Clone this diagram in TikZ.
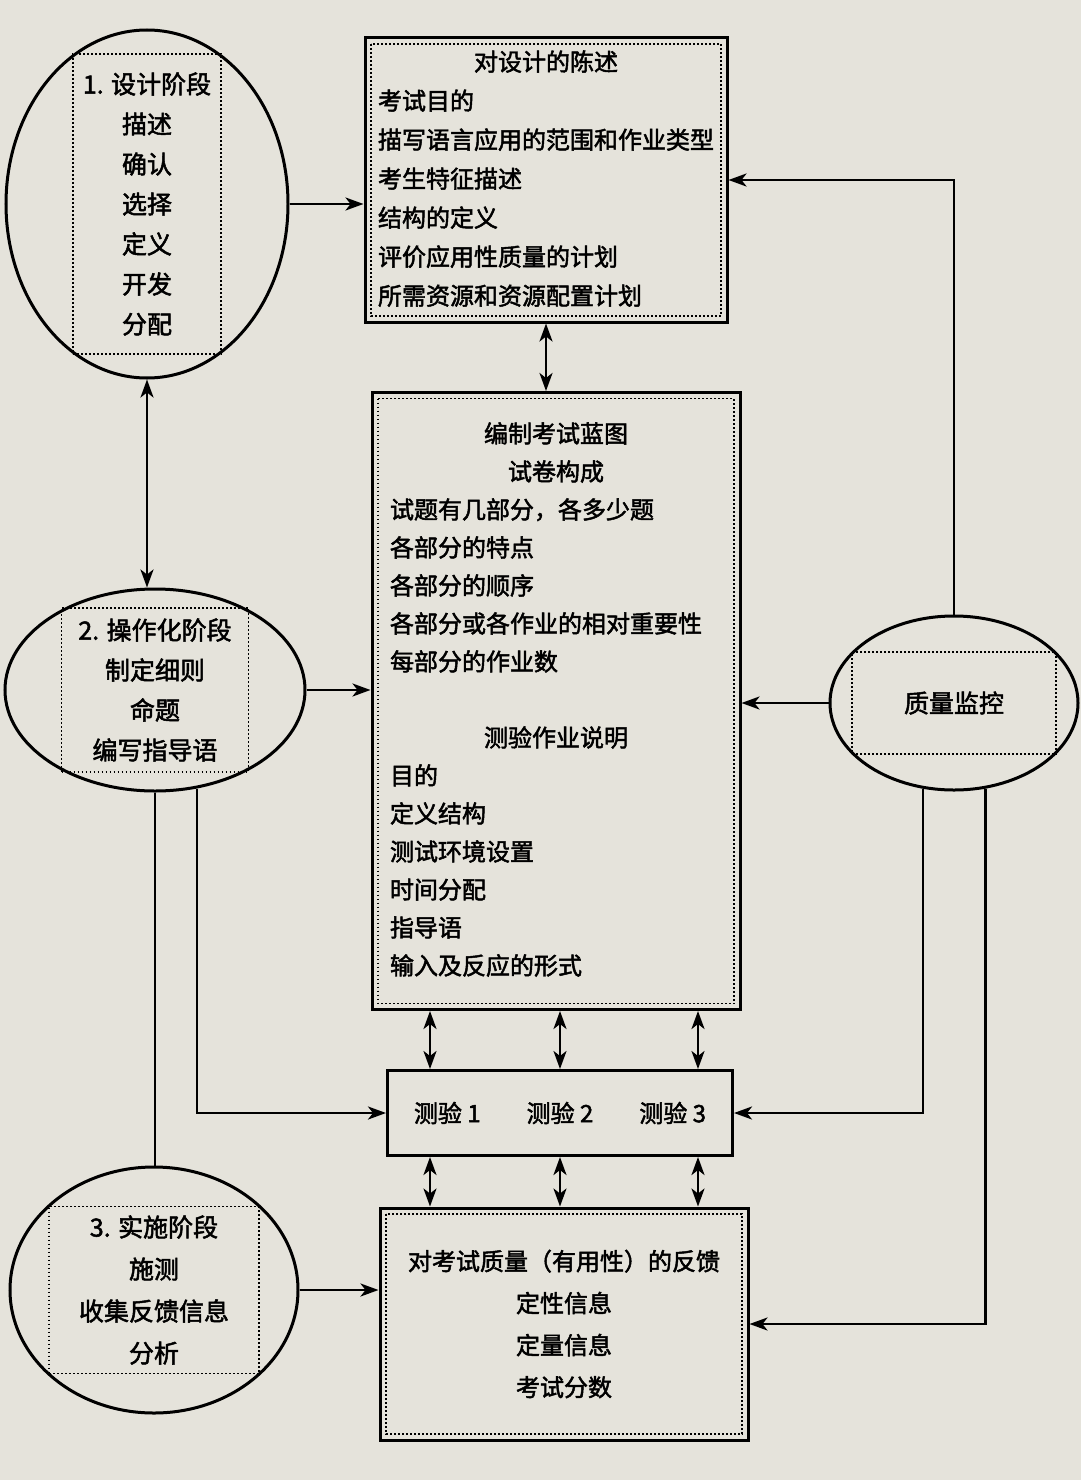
\documentclass[tikz,border=0pt]{standalone}
\usepackage{fontspec}
\newfontfamily\cjk[FakeBold=2]{Noto Sans CJK SC}
\usepackage{tikz}
\usetikzlibrary{shapes.geometric, arrows.meta, positioning}
\definecolor{paper}{RGB}{229,227,219}
\newcommand{\ctr}[1]{\multicolumn{1}{@{}c@{}}{#1}} % centred title row in a list
\tikzset{
x=1pt, y=-1pt, % coordinates as on the page, y downwards
>={Stealth[length=18pt, width=13pt, inset=5pt]}, % bold arrow heads
every node/.style={font=\cjk\fontsize{24pt}{39pt}\selectfont},
dotline/.style={line width=1.8pt, dash pattern=on 1.8pt off 2.2pt},
phase/.style={draw, ellipse, line width=3pt, inner sep=0pt}, % the round stages
steps/.style={draw, dotline, rectangle, align=center, inner sep=0pt,
  font=\cjk\fontsize{25pt}{40pt}\selectfont}, % dotted box inside a stage
frame/.style={draw, rectangle, line width=3pt, inner sep=0pt,
  path picture={\draw[dotline] ([shift={(6pt,-6pt)}]path picture bounding box.north west)
    rectangle ([shift={(-6pt,6pt)}]path picture bounding box.south east);}},
plainbox/.style={draw, rectangle, line width=3pt, inner sep=0pt},
}

\begin{document}
\begin{tikzpicture}[line width=2.6pt]
    \useasboundingbox (0,0) rectangle (1081,1480);
    \fill[paper] (0,0) rectangle (1081,1480);

    % stages on the left
    \node[phase, minimum width=282pt, minimum height=348pt] (p1) at (147,204) {};
    \node[steps, minimum width=148pt, minimum height=300pt] (p1 text) at (p1)
        {1. 设计阶段\\描述\\确认\\选择\\定义\\开发\\分配};
    \node[phase, minimum width=300pt, minimum height=202pt] (p2) at (155,690) {};
    \node[steps, minimum width=187pt, minimum height=164pt] (p2 text) at (p2)
        {2. 操作化阶段\\制定细则\\命题\\编写指导语};
    \node[phase, minimum width=288pt, minimum height=246pt] (p3) at (154,1290) {};
    \node[steps, minimum width=210pt, minimum height=167pt, font=\cjk\fontsize{25pt}{42pt}\selectfont] (p3 text) at (p3)
        {3. 实施阶段\\施测\\收集反馈信息\\分析};
    \node[phase, minimum width=248pt, minimum height=174pt] (qc) at (954,703) {};
    \node[steps, minimum width=204pt, minimum height=102pt] (qc text) at (qc) {质量监控};

    % documents in the middle
    \node[frame, minimum width=362pt, minimum height=284pt] (spec) at (546,180)
        {\begin{tabular}{@{}l@{}}
         \ctr{对设计的陈述}\\
         考试目的\\
         描写语言应用的范围和作业类型\\
         考生特征描述\\
         结构的定义\\
         评价应用性质量的计划\\
         所需资源和资源配置计划
         \end{tabular}};
    \node[frame, minimum width=368pt, minimum height=617pt, font=\cjk\fontsize{24pt}{38pt}\selectfont] (blue) at (556,701)
        {\begin{tabular}{@{}l@{\hspace{20pt}}}
         \ctr{编制考试蓝图}\\
         \ctr{试卷构成}\\
         试题有几部分，各多少题\\
         各部分的特点\\
         各部分的顺序\\
         各部分或各作业的相对重要性\\
         每部分的作业数\\
         \\
         \ctr{测验作业说明}\\
         目的\\
         定义结构\\
         测试环境设置\\
         时间分配\\
         指导语\\
         输入及反应的形式
         \end{tabular}};
    \node[plainbox, minimum width=345pt, minimum height=85pt] (tests) at (560,1113)
        {测验 1\hspace{46pt}测验 2\hspace{46pt}测验 3};
    \node[frame, align=center, minimum width=368pt, minimum height=232pt, font=\cjk\fontsize{24pt}{42pt}\selectfont] (fb) at (564,1324)
        {对考试质量（有用性）的反馈\\定性信息\\定量信息\\考试分数};

    % connections
    \draw[->] (p1.east) -- (p1.east -| spec.west);
    \draw[<->] (spec.south) -- (spec.south |- blue.north);
    \draw[<->] (p1.south) -- (p1.south |- p2.north);
    \draw[->] (p2.east) -- (p2.east -| blue.west);
    \draw (p2.south) -- (p2.south |- p3.north);
    \draw[->] (p2.293) |- (tests.west);
    \foreach \x in {430,560,698} {
        \draw[<->] (blue.south -| \x,0) -- (tests.north -| \x,0);
        \draw[<->] (tests.south -| \x,0) -- (fb.north -| \x,0);
    }
    \draw[->] (p3.east) -- (p3.east -| fb.west);
    \draw[->] (qc.north) |- (spec.east);
    \draw[->] (qc.west) -- (qc.west -| blue.east);
    \draw[->] (qc.250) |- (tests.east);
    \draw[->] (qc.290) |- (fb.east);
\end{tikzpicture}
\end{document}
